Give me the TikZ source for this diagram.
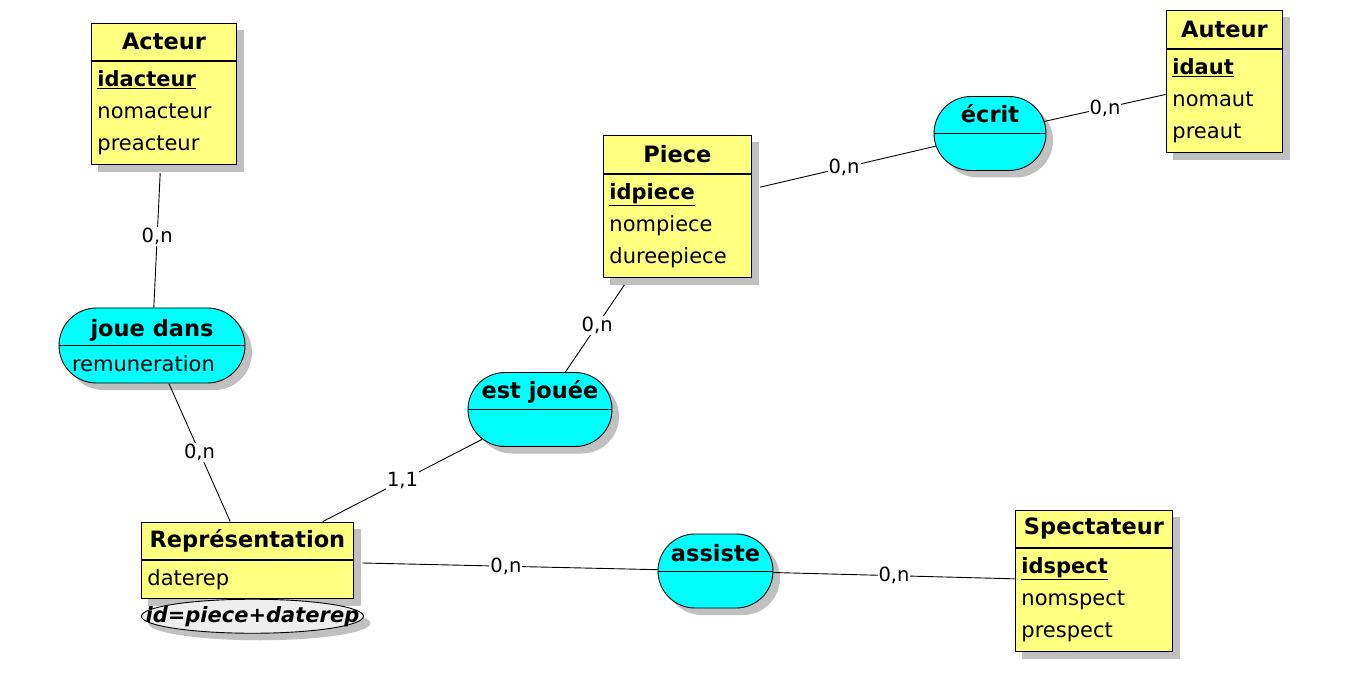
\documentclass[tikz,border=0pt]{standalone}
\usepackage{fontspec}
\setmainfont{DejaVu Sans}
\usetikzlibrary{positioning, fit, shadows, shapes.geometric, shapes.misc, backgrounds}
\definecolor{entyellow}{RGB}{255,255,128}
\definecolor{assoccyan}{RGB}{0,255,255}
\definecolor{shadowgray}{RGB}{192,192,192}
\definecolor{identgray}{RGB}{238,238,238}

\begin{document}
\begin{tikzpicture}[
	x=1pt, y=-1pt,
	line width=0.9pt,
	boxshadow/.style={
		drop shadow={shadow xshift=7pt, shadow yshift=-7pt, fill=shadowgray, opacity=1}
	},
	enthead/.style={
		draw,
		fill=entyellow,
		anchor=north west,
		minimum height=37pt,
		inner sep=0pt,
		font=\bfseries\fontsize{22.5}{27}\selectfont
	},
	entbody/.style={
		draw,
		fill=entyellow,
		text width=#1,
		inner xsep=6pt,
		inner ysep=0pt,
		minimum height=103pt,
		align=left,
		font=\fontsize{21}{32}\selectfont
	},
	entshadow/.style={fill=shadowgray},
	assoc/.style={
		rounded rectangle,
		draw,
		fill=assoccyan,
		boxshadow,
		minimum height=74pt,
		inner sep=0pt
	},
	assocname/.style={
		anchor=base,
		inner sep=0pt,
		font=\bfseries\fontsize{22.5}{27}\selectfont
	},
	assocattr/.style={
		anchor=base west,
		inner sep=0pt,
		font=\fontsize{21}{26}\selectfont
	},
	card/.style={
		fill=white,
		inner sep=1pt,
		font=\fontsize{19.5}{23}\selectfont
	},
	link/.style={draw}
	]

	\begin{scope}[on background layer]
		\path[use as bounding box, fill=white] (0,0) rectangle (1359,700);
	\end{scope}

	%------------------------------------------------
	% ENTITIES
	%------------------------------------------------

	\node[enthead, minimum width=145pt] (acteurH) at (91,23) {Acteur};
	\node[entbody=133pt, below=0pt of acteurH] (acteurB)
	{\underline{\textbf{idacteur}}\\nomacteur\\preacteur};
	\node[fit=(acteurH)(acteurB), inner sep=0pt] (acteur) {};

	\node[enthead, minimum width=116pt, minimum height=38pt] (auteurH) at (1166,10) {Auteur};
	\node[entbody=104pt, below=0pt of auteurH] (auteurB)
	{\underline{\textbf{idaut}}\\nomaut\\preaut};
	\node[fit=(auteurH)(auteurB), inner sep=0pt] (auteur) {};

	\node[enthead, minimum width=148pt, minimum height=38pt] (pieceH) at (603,135) {Piece};
	\node[entbody=136pt, below=0pt of pieceH] (pieceB)
	{\underline{\textbf{idpiece}}\\nompiece\\dureepiece};
	\node[fit=(pieceH)(pieceB), inner sep=0pt] (piece) {};

	\node[enthead, minimum width=157pt] (spectH) at (1015,510) {Spectateur};
	\node[entbody=145pt, below=0pt of spectH] (spectB)
	{\underline{\textbf{idspect}}\\nomspect\\prespect};
	\node[fit=(spectH)(spectB), inner sep=0pt] (spect) {};

	\node[enthead, minimum width=212pt] (repH) at (141,522) {Représentation};
	\node[entbody=200pt, minimum height=38pt, below=0pt of repH] (repB) {daterep};
	\node[fit=(repH)(repB), inner sep=0pt] (rep) {};

	% one shadow behind each entity
	\begin{scope}[on background layer]
		\foreach \ent in {acteur, auteur, piece, spect, rep}
		\fill[entshadow] ([shift={(7,7)}]\ent.north west) rectangle ([shift={(7,7)}]\ent.south east);
	\end{scope}

	% identifier under Représentation
	\node[
	ellipse,
	draw,
	fill=identgray,
	boxshadow,
	minimum width=222pt,
	minimum height=34pt,
	inner sep=0pt,
	anchor=north
	] (repid) at ([xshift=5pt]repB.south) {};
	\node[font=\bfseries\itshape\fontsize{21}{26}\selectfont, inner sep=0pt]
	(repidtext) at (repid.center) {id=piece+daterep};

	%------------------------------------------------
	% ASSOCIATIONS
	%------------------------------------------------

	\node[assoc, minimum width=186pt, minimum height=75pt] (joue) at (152,345.5) {};
	\draw (joue.west) -- (joue.east);
	\node[assocname] (jouename) at ([yshift=9pt]joue.center) {joue dans};
	\node[assocattr] (jouerem) at ([xshift=13pt, yshift=-26pt]joue.west) {remuneration};

	\node[assoc, minimum width=144pt] (estjouee) at (540,409.5) {};
	\draw (estjouee.west) -- (estjouee.east);
	\node[assocname] (estjoueename) at ([yshift=11pt]estjouee.center) {est jouée};

	\node[assoc, minimum width=112pt] (ecrit) at (990,133.5) {};
	\draw (ecrit.west) -- (ecrit.east);
	\node[assocname] (ecritname) at ([yshift=11pt]ecrit.center) {écrit};

	\node[assoc, minimum width=115pt] (assiste) at (715.5,571) {};
	\draw (assiste.west) -- (assiste.east);
	\node[assocname] (assistename) at ([yshift=10pt]assiste.center) {assiste};

	%------------------------------------------------
	% LINKS
	%------------------------------------------------

	\draw[link, shorten <=8pt] (acteur) -- node[card] {0,n} (joue);
	\draw[link] (joue) -- node[card] {0,n} (rep);
	\draw[link] (rep) -- node[card] {1,1} (estjouee);
	\draw[link, shorten >=8pt] (estjouee) -- node[card] {0,n} (piece);
	\draw[link, shorten <=8pt] (piece) -- node[card] {0,n} (ecrit);
	\draw[link] (ecrit) -- node[card] {0,n} (auteur);
	\draw[link, shorten <=8pt] (rep) -- node[card] {0,n} (assiste);
	\draw[link] (assiste) -- node[card] {0,n} (spect);

\end{tikzpicture}
\end{document}
